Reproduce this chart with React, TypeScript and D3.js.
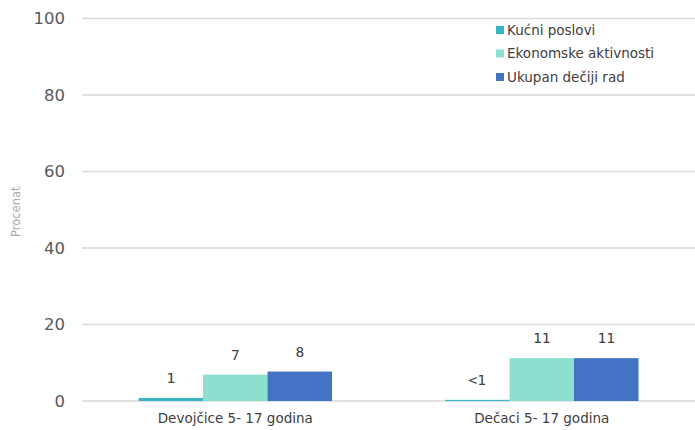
import React from "react";
import * as d3 from "d3";

const categories = ["Devojčice 5- 17 godina", "Dečaci 5- 17 godina"];
const seriesNames = ["Kućni poslovi", "Ekonomske aktivnosti", "Ukupan dečiji rad"];
const kucniPoslovi = [0.8, 0.3];
const ekonomskeAktivnosti = [6.9, 11.2];
const ukupanDecijiRad = [7.7, 11.2];
const valueLabels = [["1", "7", "8"], ["<1", "11", "11"]];
const yTicks = [0, 20, 40, 60, 80, 100];
const colors = ["#3ab4c2", "#8ddfd0", "#4472c4"];

export default function App() {
  const W = 695, H = 430;
  const left = 82, right = 695, top = 18.5, bottom = 401;
  const series = [kucniPoslovi, ekonomskeAktivnosti, ukupanDecijiRad];
  const x = d3.scaleBand<string>().domain(categories).range([left, right]).paddingInner(0).paddingOuter(0);
  const inner = d3.scaleBand<number>().domain([0, 1, 2]).range([0, 193.5]);
  const y = d3.scaleLinear().domain([0, 100]).range([bottom, top]);
  const groupOffset = (x.bandwidth() - inner.range()[1]) / 2;
  const font = "'DejaVu Sans', sans-serif";

  return (
    <svg width={W} height={H} style={{ position: "absolute", left: 0, top: 0 }}>
      <rect width={W} height={H} fill="#fff" />
      {yTicks.map((t) => (
        <g key={t}>
          <line x1={left} x2={right} y1={y(t)} y2={y(t)} stroke="#d9d9d9" strokeWidth={1.5} />
          <text x={65} y={y(t)} dy="0.36em" textAnchor="end" fontFamily={font} fontSize={16.5} fill="#595959">
            {t}
          </text>
        </g>
      ))}
      <text transform={`translate(20,${(top + bottom) / 2 + 2}) rotate(-90)`} textAnchor="middle" fontFamily={font} fontSize={11.5} fill="#aaaaaa">
        Procenat
      </text>
      {categories.map((c, ci) => (
        <g key={c}>
          {series.map((s, si) => {
            const bx = (x(c) as number) + groupOffset + (inner(si) as number);
            const by = y(s[ci]);
            return (
              <g key={si}>
                <rect x={bx} y={by} width={inner.bandwidth()} height={bottom - by} fill={colors[si]} />
                <text x={bx + inner.bandwidth() / 2} y={by - 15} textAnchor="middle" fontFamily="'DejaVu Sans Mono', monospace" fontSize={14.5} fill="#404040">
                  {valueLabels[ci][si]}
                </text>
              </g>
            );
          })}
          <text x={(x(c) as number) + x.bandwidth() / 2} y={423} textAnchor="middle" fontFamily={font} fontSize={13.5} fill="#404040">
            {c}
          </text>
        </g>
      ))}
      {seriesNames.map((n, i) => (
        <g key={n} transform={`translate(496,${30 + i * 23.5})`}>
          <rect x={0} y={-4} width={8} height={8} fill={colors[i]} />
          <text x={11} y={0} dy="0.36em" fontFamily={font} fontSize={13.5} fill="#404040">
            {n}
          </text>
        </g>
      ))}
    </svg>
  );
}
